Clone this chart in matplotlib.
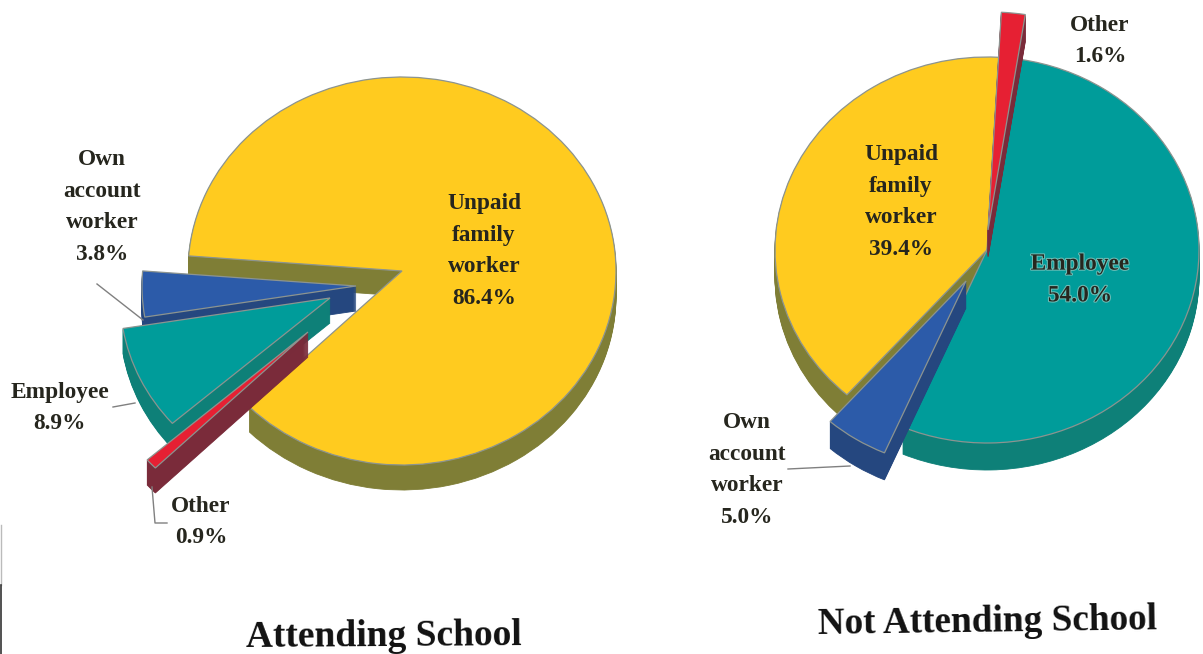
#%%
# IMPORTS #######################################

import matplotlib
matplotlib.use('Agg')
import matplotlib.pyplot as plt
import matplotlib.patheffects as pe

# SETUP #########################################

plt.rcParams.update({
    'font.family': 'Liberation Serif',
    'font.weight': 'bold',
})

W, H = 1203, 654

# DATA ##########################################

categories = ['Unpaid family worker', 'Own account worker', 'Employee', 'Other']
attending = [86.4, 3.8, 8.9, 0.9]
not_attending = [39.4, 5.0, 54.0, 1.6]

# STYLE #########################################

top_colors = ['#FFCB1F', '#2C5BA9', '#009C9A', '#E62033']
side_colors = ['#7F7E36', '#25477F', '#0E8078', '#7A2B3A']
text_color = '#26261E'
line_color = '#808080'

# FUNCTIONS #####################################

def pie_axes(cx, cy, rx, ry):
    # one data unit = pie radius, squashed to look tilted
    span = 1.6
    ax = fig.add_axes([
        (cx - span*rx)/W, 1 - (cy + span*ry)/H,
        2*span*rx/W, 2*span*ry/H
    ])
    ax.rx, ax.ry, ax.span = rx, ry, span
    return ax


def layer(ax, values, start, colors, edge, lw, shift, base_z, offsets, radii, ranks):
    wedges, _ = ax.pie(values, colors=colors, startangle=start, counterclock=True,
                       wedgeprops={'edgecolor': edge, 'linewidth': lw})
    for w, off, r, rank in zip(wedges, offsets, radii, ranks):
        w.set_center((off[0]/ax.rx, -(off[1] + shift)/ax.ry))
        w.set_radius(r)
        w.set_zorder(rank*100 + base_z)
        if edge is None:
            w.set_edgecolor(w.get_facecolor())
    ax.set_aspect('auto')
    ax.set_xlim(-ax.span, ax.span)
    ax.set_ylim(-ax.span, ax.span)


def pie_3d(ax, values, start, depth, offsets, radii, ranks):
    for k in range(depth, 0, -1):
        layer(ax, values, start, side_colors, None, 0.6, k, depth - k + 1,
              offsets, radii, ranks)
    layer(ax, values, start, top_colors, '#8C9490', 0.9, 0, 60,
          offsets, radii, ranks)

# FIGURE ########################################

fig = plt.figure(figsize=(W/100, H/100), dpi=100, facecolor='white')

ax_left = pie_axes(402, 271, 214, 194)
pie_3d(ax_left, attending, 224.5, 25,
       offsets=[(0, 0), (-46, 15), (-72, 27), (-94, 61)],
       radii=[1, 1, 0.98, 1],
       ranks=[0, 1, 2, 3])

ax_right = pie_axes(987, 250, 212, 193)
pie_3d(ax_right, not_attending, 86.8, 27,
       offsets=[(0, 0), (-21, 31), (0, 0), (1, -20)],
       radii=[1, 0.97, 1, 1.13],
       ranks=[0, 2, 1, 3])

# overlay in pixel coordinates for labels and leader lines
ov = fig.add_axes([0, 0, 1, 1], zorder=10)
ov.set_xlim(0, W)
ov.set_ylim(H, 0)
ov.axis('off')
ov.patch.set_alpha(0)

# LABELS ########################################

labels = [
    (484, 251, 'Unpaid\nfamily\nworker\n86.4%'),
    (102, 207, 'Own\naccount\nworker\n3.8%'),
    (60, 408, 'Employee\n8.9%'),
    (201, 522, 'Other\n0.9%'),
    (901, 202, 'Unpaid\nfamily\nworker\n39.4%'),
    (1080, 280, 'Employee\n54.0%'),
    (747, 470, 'Own\naccount\nworker\n5.0%'),
    (1100, 41, 'Other\n1.6%'),
]
for x, y, s in labels:
    t = ov.text(x, y, s, ha='center', va='center', fontsize=16.8,
                linespacing=1.67, color=text_color)
    if s.endswith('54.0%'):
        t.set_path_effects([pe.withStroke(linewidth=1.5, foreground='#6DBDB6')])

ov.text(384, 637, 'Attending School', ha='center', va='center', fontsize=27,
        rotation=0.4, color='#111111')
ov.text(987, 622, 'Not Attending School', ha='center', va='center', fontsize=26.8,
        rotation=0.8, color='#111111')

# LEADER LINES ##################################

ov.plot([97, 143], [284, 320], color=line_color, lw=1)
ov.plot([113, 135], [407, 403], color=line_color, lw=1)
ov.plot([152, 155, 167], [487, 523, 523], color=line_color, lw=1)
ov.plot([788, 850], [469, 466], color=line_color, lw=1)

# scan edge bottom left
ov.plot([0.5, 0.5], [525, 585], color='#BBBBBB', lw=1)
ov.plot([0.5, 0.5], [585, 654], color='#333333', lw=1.2)

# EXPORT ########################################

fig.savefig('out.png', dpi=100)
# %%
